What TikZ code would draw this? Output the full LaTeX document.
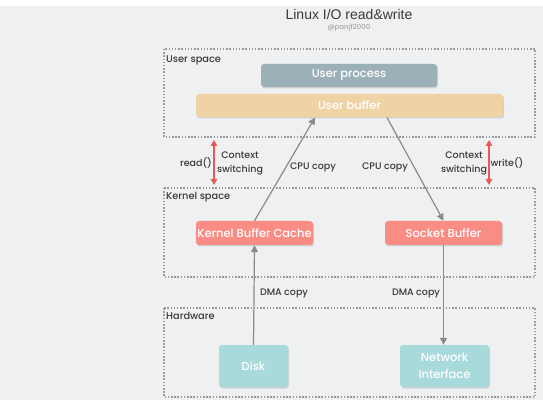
\documentclass[tikz,border=0pt]{standalone}
\usepackage{fontspec}
\setmainfont{Poppins}[UprightFont=* Medium]
\newfontfamily\titlefont{Liberation Sans}
\usetikzlibrary{arrows.meta}
\definecolor{bg}{HTML}{EFF0F2}
\definecolor{procc}{HTML}{9BB0B7}
\definecolor{bufc}{HTML}{F0D3A4}
\definecolor{kernc}{HTML}{F98C84}
\definecolor{hwc}{HTML}{A8DADC}
\definecolor{arrc}{HTML}{8A8A8A}
\definecolor{redc}{HTML}{E85A5A}
\definecolor{txtc}{HTML}{3A3A3A}
\definecolor{dotc}{HTML}{9A9A9A}
\tikzset{
  region/.style={draw=dotc, line width=1.3pt, dash pattern=on 1.5pt off 1.7pt},
  boxsty/.style={rounded corners=3pt, text=white, font=\fontsize{11.5}{12}\selectfont, inner sep=0pt, align=center},
  seclabel/.style={anchor=west, text=txtc, font=\fontsize{9.8}{10}\selectfont, inner sep=0pt},
  lbl/.style={text=txtc, font=\fontsize{9.5}{10}\selectfont, inner sep=0pt, align=center},
  copyarrow/.style={draw=arrc, line width=1.2pt, -{Triangle[length=7pt,width=7pt]}},
  ctxarrow/.style={draw=redc, line width=1.3pt, {Triangle[length=6pt,width=6.5pt]}-{Triangle[length=6pt,width=6.5pt]}},
}
\begin{document}
\begin{tikzpicture}[x=1pt,y=-1pt]
\useasboundingbox (0,0) rectangle (543,403);
\fill[white] (0,0) rectangle (543,403);
\fill[bg] (0,6) rectangle (543,400);
% title
\node[text=txtc, font=\titlefont\fontsize{14}{15}\selectfont, inner sep=0pt] (title) at (349,15) {Linux I/O read\&write};
\node[text=gray!70, font=\fontsize{7}{8}\selectfont, inner sep=0pt] (sub) at (349,27.5) {@panjf2000};
% regions
\draw[region] (164,49) rectangle (535,137);
\draw[region] (164,188) rectangle (535,277);
\draw[region] (164,308) rectangle (535,397);
\node[seclabel] (us) at (166,60) {User space};
\node[seclabel] (ks) at (166,197) {Kernel space};
\node[seclabel] (hw) at (166,316) {Hardware};
% boxes
\fill[black!18, rounded corners=3pt] (262,65.5) rectangle (438,88.5);
\node[boxsty, fill=procc, minimum width=176pt, minimum height=23pt] (proc) at (349,75.5) {User process};
\fill[black!18, rounded corners=3pt] (197,95.5) rectangle (504,118.5);
\node[boxsty, fill=bufc, minimum width=307pt, minimum height=23pt] (ubuf) at (349.5,105.5) {User buffer};
\fill[black!18, rounded corners=3pt] (197,222.5) rectangle (314,246.5);
\node[boxsty, fill=kernc, minimum width=117pt, minimum height=24pt] (kbc) at (254.5,233) {Kernel Buffer Cache};
\fill[black!18, rounded corners=3pt] (386,222.5) rectangle (503,246.5);
\node[boxsty, fill=kernc, minimum width=117pt, minimum height=24pt] (sock) at (443.5,233) {Socket Buffer};
\fill[black!18, rounded corners=3pt] (220,346.5) rectangle (289,388.5);
\node[boxsty, fill=hwc, minimum width=69pt, minimum height=42pt] (disk) at (253.5,366) {Disk};
\fill[black!18, rounded corners=3pt] (401,346.5) rectangle (490,388.5);
\node[boxsty, fill=hwc, minimum width=89pt, minimum height=42pt, font=\fontsize{11.5}{17.5}\selectfont] (nic) at (444.5,366) {Network\\Interface};
% copy arrows
\draw[copyarrow] (disk.north) -- (kbc.south);
\draw[copyarrow] (kbc.north) -- (315,117.5) coordinate (ub1);
\draw[copyarrow] (387,117.5) coordinate (ub2) -- (sock.north);
\draw[copyarrow] (sock.south) -- (nic.north -| sock.south);
% labels
\node[lbl] (cpu1) at (313,167) {CPU copy};
\node[lbl] (cpu2) at (385,167) {CPU copy};
\node[lbl] (dma1) at (284,293) {DMA copy};
\node[lbl] (dma2) at (416,293) {DMA copy};
% context switching
\coordinate (ra) at (214,140);
\coordinate (rb) at (214,185);
\draw[ctxarrow] (ra) -- (rb);
\coordinate (wa) at (489,140);
\coordinate (wb) at (489,185);
\draw[ctxarrow] (wa) -- (wb);
\node[lbl] (read) at (196,163) {read()};
\node[lbl, font=\fontsize{9.5}{14}\selectfont] (ctx1) at (240,163) {Context\\switching};
\node[lbl, font=\fontsize{9.5}{14}\selectfont] (ctx2) at (464,163) {Context\\switching};
\node[lbl] (write) at (507,163) {write()};
\end{tikzpicture}
\end{document}
